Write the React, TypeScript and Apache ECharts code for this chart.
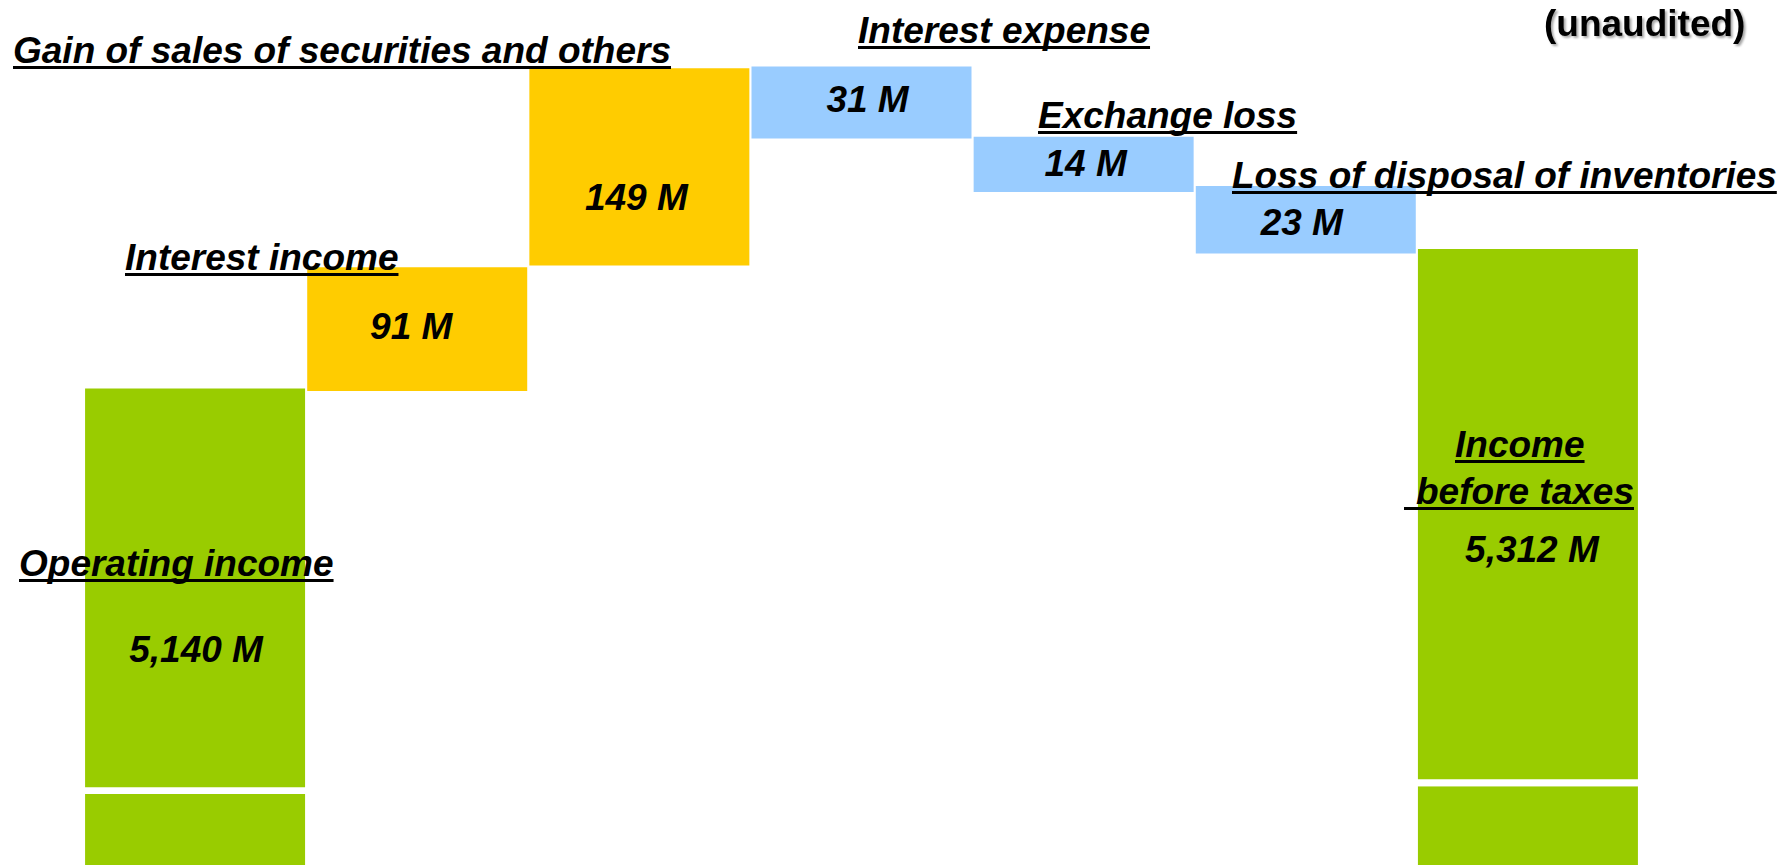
import React, { useEffect, useRef } from "react";
import * as echarts from "echarts";

// ---- data ----
const categories = [
  "Operating income",
  "Interest income",
  "Gain of sales of securities and others",
  "Interest expense",
  "Exchange loss",
  "Loss of disposal of inventories",
  "Income before taxes",
];
const kinds = ["total", "increase", "increase", "decrease", "decrease", "decrease", "total"];
const valueLabels = ["5,140 M", "91 M", "149 M", "31 M", "14 M", "23 M", "5,312 M"];
// schematic bar levels (chart units 0-100) as drawn in the picture
const barLow = [0, 54.8, 69.3, 84.0, 77.8, 70.7, 0];
const barHigh = [55.1, 69.1, 92.1, 92.3, 84.2, 78.5, 71.2];
// axis-break band on the two total bars
const breakLow = [8.2, null, null, null, null, null, 9.1];
const breakHigh = [9.0, null, null, null, null, null, 9.9];

// ---- styles / layout ----
const COLORS: Record<string, string> = { total: "#99CC00", increase: "#FFCC00", decrease: "#99CCFF" };
const labelOffsets = [[1, 62], [-6, -3], [-3, 31], [6, -3], [2, -1], [-4, 3], [4, 35]];
const FONT = '"Liberation Sans", Arial, sans-serif';
const FS = 37;
const titleLayout = [
  { text: "Gain of sales of securities and others", x: 13, base: 63 },
  { text: "Interest income", x: 125, base: 270 },
  { text: "Interest expense", x: 858, base: 43 },
  { text: "Exchange loss", x: 1038, base: 128 },
  { text: "Loss of disposal of inventories", x: 1232, base: 188 },
  { text: "Operating income", x: 19, base: 576 },
  { text: "Income", x: 1455, base: 457 },
  { text: "before taxes", x: 1416, base: 504, ulFrom: 1404 },
];

function measure(text: string, font: string): number {
  const c = document.createElement("canvas").getContext("2d");
  if (!c) return text.length * FS * 0.55;
  c.font = font;
  return c.measureText(text).width;
}

export default function App() {
  const ref = useRef<HTMLDivElement>(null);
  useEffect(() => {
    if (!ref.current) return;
    const chart = echarts.init(ref.current, undefined, { renderer: "svg" });

    const isTotal = (i: number) => kinds[i] === "total";
    const segA = categories.map((_, i) =>
      isTotal(i)
        ? { value: breakLow[i] as number, itemStyle: { color: COLORS.total } }
        : { value: barLow[i], itemStyle: { color: "rgba(0,0,0,0)" } }
    );
    const segGap = categories.map((_, i) =>
      isTotal(i)
        ? { value: (breakHigh[i] as number) - (breakLow[i] as number), itemStyle: { color: "#ffffff" } }
        : { value: 0, itemStyle: { color: "rgba(0,0,0,0)" } }
    );
    const segMain = categories.map((_, i) => ({
      value: barHigh[i] - (isTotal(i) ? (breakHigh[i] as number) : barLow[i]),
      itemStyle: { color: COLORS[kinds[i]] },
      label: { offset: labelOffsets[i] },
    }));

    const titleFont = `italic bold ${FS}px ${FONT}`;
    const graphics: any[] = [];
    titleLayout.forEach((t) => {
      const w = measure(t.text, titleFont);
      graphics.push({
        type: "text",
        x: t.x,
        y: t.base - 13,
        z: 100,
        silent: true,
        style: {
          text: t.text,
          fontSize: FS,
          fontWeight: "bold",
          fontStyle: "italic",
          fontFamily: FONT,
          fill: "#000",
          textAlign: "left",
          textVerticalAlign: "middle",
          align: "left",
          verticalAlign: "middle",
        },
      });
      graphics.push({
        type: "line",
        z: 100,
        silent: true,
        shape: { x1: t.ulFrom ?? t.x, y1: t.base + 4.5, x2: t.x + w, y2: t.base + 4.5 },
        style: { stroke: "#000", lineWidth: 3 },
      });
    });
    graphics.push({
      type: "text",
      x: 1544,
      y: 36 - 13,
      z: 100,
      silent: true,
      style: {
        text: "(unaudited)",
        fontSize: FS,
        fontWeight: "bold",
        fontFamily: FONT,
        fill: "#000",
        textAlign: "left",
        textVerticalAlign: "middle",
        align: "left",
        verticalAlign: "middle",
        textShadowColor: "rgba(0,0,0,0.35)",
        textShadowOffsetX: 2,
        textShadowOffsetY: 2,
        textShadowBlur: 2,
      },
    });

    chart.setOption({
      animation: false,
      backgroundColor: "#ffffff",
      grid: { left: 84, right: 152, top: 0, bottom: 0 },
      xAxis: { type: "category", data: categories, show: false },
      yAxis: { type: "value", min: 0, max: 100, show: false },
      series: [
        { type: "bar", stack: "w", barWidth: 220, data: segA, silent: true, z: 2 },
        { type: "bar", stack: "w", barWidth: 220, data: segGap, silent: true, z: 2 },
        {
          type: "bar",
          stack: "w",
          barWidth: 220,
          data: segMain,
          silent: true,
          z: 2,
          label: {
            show: true,
            position: "inside",
            formatter: (p: any) => valueLabels[p.dataIndex],
            fontSize: FS,
            fontWeight: "bold",
            fontStyle: "italic",
            fontFamily: FONT,
            color: "#000",
          },
        },
      ],
      graphic: { elements: graphics },
    });
    return () => chart.dispose();
  }, []);
  return (
    <div
      ref={ref}
      style={{ position: "fixed", left: 0, top: 0, width: 1791, height: 865, background: "#fff" }}
    />
  );
}
